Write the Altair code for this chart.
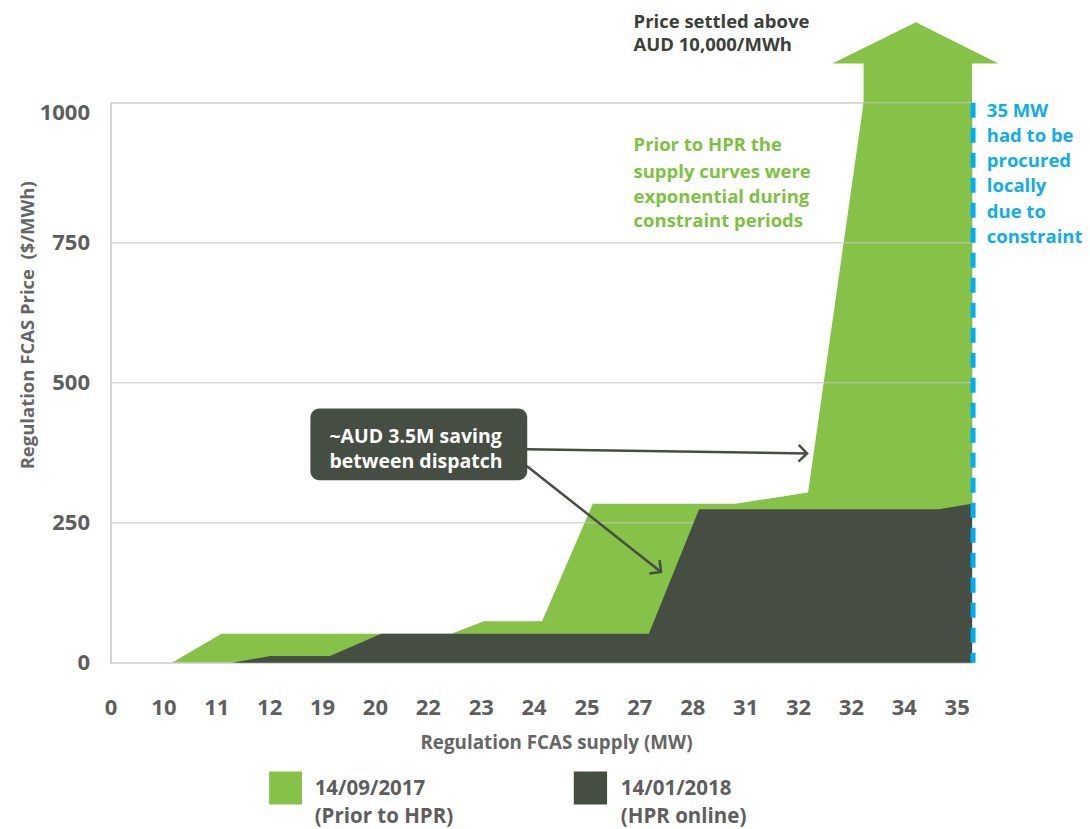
import json
import altair as alt
import pandas as pd

# ---------------- data ----------------
x_labels = ['0', '10', '11', '12', '19', '20', '22', '23', '24', '25',
            '27', '28', '31', '32', '32', '34', '35']
y_ticks = [0, 250, 500, 750, 1000]

series = ["14/09/2017 (Prior to HPR)", "14/01/2018 (HPR online)"]
colors = ["#85c247", "#464d42"]

# supply curve (x = position index on the category axis, y = $/MWh)
green_x = [0, 1.16, 2.10, 6.45, 7.06, 8.16, 9.12, 11.82, 13.19, 14.24, 16.29]
green_y = [0, 0, 52, 52, 74, 74, 284, 284, 304, 1000, 1000]
dark_x = [0, 2.30, 3.02, 4.15, 5.12, 10.18, 11.13, 15.66, 16.29]
dark_y = [0, 0, 12, 12, 52, 52, 274, 274, 284]

# big "price above 10,000" arrow (shaft + head)
shaft_x, shaft_x2, shaft_y, shaft_y2 = 14.24, 16.29, 995, 1072
head_x = [13.65, 15.23, 16.79]
head_y = [1070, 1144, 1070]

constraint_x = 16.31

# annotation box + arrows
box = dict(x=3.78, x2=7.88, y=454, y2=326)
box_lines = ["~AUD 3.5M saving", "between dispatch"]
box_line_y = [403, 358]
box_text_x = 4.14
arrows_x = [7.87, 7.87]
arrows_y = [381.5, 351.6]
arrows_x2 = [13.17, 10.41]
arrows_y2 = [373.8, 162.2]
arrows_angle = [1, 38]

top_lines = ["Price settled above", "AUD 10,000/MWh"]
top_y = [1145, 1103.5]
green_lines = ["Prior to HPR the", "supply curves were", "exponential during", "constraint periods"]
green_line_y = [925, 877, 832, 789]
note_x = 9.89
blue_lines = ["35 MW", "had to be", "procured", "locally", "due to", "constraint"]
blue_line_y = [985, 941, 896, 851, 805, 761]
blue_x = 16.57

legend_rect_x = [3.0, 8.76]
legend_rect_x2 = [3.62, 9.39]
legend_rect_y, legend_rect_y2 = -194, -253
legend_text_x = [3.86, 9.65]
legend_line1 = ["14/09/2017", "14/01/2018"]
legend_line2 = ["(Prior to HPR)", "(HPR online)"]
legend_y1, legend_y2 = -226, -275

# ---------------- tables ----------------
df_green = pd.DataFrame({"x": green_x, "y": green_y, "series": series[0]})
df_dark = pd.DataFrame({"x": dark_x, "y": dark_y, "series": series[1]})
df_shaft = pd.DataFrame({"x": [shaft_x], "x2": [shaft_x2], "y": [shaft_y], "y2": [shaft_y2], "series": [series[0]]})
df_head = pd.DataFrame({"x": head_x, "y": head_y, "y2": [head_y[0]] * 3, "series": series[0]})
df_grid = pd.DataFrame({"y": y_ticks, "x": 0, "x2": green_x[-1]})
df_const = pd.DataFrame({"x": [constraint_x], "y": [1000], "y2": [0]})
df_box = pd.DataFrame([box])
df_box_text = pd.DataFrame({"t": box_lines, "y": box_line_y, "x": box_text_x})
df_arrows = pd.DataFrame({"x": arrows_x, "y": arrows_y, "x2": arrows_x2, "y2": arrows_y2, "a": arrows_angle})
df_top = pd.DataFrame({"t": top_lines, "y": top_y, "x": note_x})
df_gtext = pd.DataFrame({"t": green_lines, "y": green_line_y, "x": note_x})
df_btext = pd.DataFrame({"t": blue_lines, "y": blue_line_y, "x": blue_x})
df_leg_rect = pd.DataFrame({"x": legend_rect_x, "x2": legend_rect_x2, "y": legend_rect_y,
                            "y2": legend_rect_y2, "series": series})
df_leg_text = pd.DataFrame({
    "t": legend_line1 + legend_line2,
    "x": legend_text_x + legend_text_x,
    "y": [legend_y1] * 2 + [legend_y2] * 2,
})

FONT = "Open Sans"
xs = alt.Scale(domain=[0, green_x[-1]], nice=False, zero=False)
ys = alt.Scale(domain=[0, 1000], nice=False)
cs = alt.Scale(domain=series, range=colors)

x_axis = alt.Axis(
    values=list(range(len(x_labels))),
    labelExpr=json.dumps(x_labels) + "[datum.value]",
    title="Regulation FCAS supply (MW)",
    titleFontSize=18.8, titleFontWeight="bold", titleColor="#666666",
    titleX=445.5, titleY=79.5, titleBaseline="middle", titleAlign="center",
    labelFontSize=22, labelFontWeight="bold", labelColor="#5e5e5e",
    labelPadding=45, labelBaseline="middle", labelFlush=False, labelOverlap=False,
    ticks=False, domain=False, grid=False,
)
y_axis = alt.Axis(
    values=y_ticks, format="d",
    title="Regulation FCAS Price\u00a0 ($/MWh)",
    titleFontSize=18.5, titleFontWeight="bold", titleColor="#666666",
    titleX=-83, titleY=222, titleAngle=270, titleBaseline="middle", titleAlign="center",
    labelFontSize=22, labelFontWeight="bold", labelColor="#5e5e5e", labelPadding=21,
    labelBaseline={"condition": {"test": "datum.value === 1000", "value": "top"}, "value": "middle"},
    labelFlush=False, labelOverlap=False,
    ticks=False, domain=True, domainColor="#bdbdbd", domainWidth=1, grid=False,
)


def X(f, **kw):
    return alt.X(f, scale=xs, axis=x_axis, **kw)


def Y(f, **kw):
    return alt.Y(f, scale=ys, axis=y_axis, **kw)


color = alt.Color("series:N", scale=cs, legend=None)

green_area = alt.Chart(df_green).mark_area(interpolate="linear").encode(
    x=X("x:Q"), y=Y("y:Q", stack=None), color=color)
shaft = alt.Chart(df_shaft).mark_rect().encode(x=X("x:Q"), x2="x2", y=Y("y:Q"), y2="y2", color=color)
head = alt.Chart(df_head).mark_area().encode(x=X("x:Q"), y=Y("y:Q", stack=None), y2="y2", color=color)
grid = alt.Chart(df_grid).mark_rule(color="#c4c4c4", strokeWidth=1).encode(
    x=X("x:Q"), x2="x2", y=Y("y:Q"))
dark_area = alt.Chart(df_dark).mark_area(interpolate="linear").encode(
    x=X("x:Q"), y=Y("y:Q", stack=None), color=color)
const_line = alt.Chart(df_const).mark_rule(
    color="#00aeef", strokeWidth=5, strokeDash=[15, 10]).encode(x=X("x:Q"), y=Y("y:Q"), y2="y2")

arrow_lines = alt.Chart(df_arrows).mark_rule(color="#464d42", strokeWidth=2.5).encode(
    x=X("x:Q"), y=Y("y:Q"), x2="x2", y2="y2")
arrow_heads = alt.Chart(df_arrows).mark_point(
    shape="M -1 -1 L 0 0 L -1 1", filled=False, stroke="#464d42", strokeWidth=2.5,
    size=280, opacity=1).encode(
    x=X("x2:Q"), y=Y("y2:Q"), angle=alt.Angle("a:Q", scale=None))
box_rect = alt.Chart(df_box).mark_rect(cornerRadius=9, color="#464d42").encode(
    x=X("x:Q"), x2="x2", y=Y("y:Q"), y2="y2")
box_text = alt.Chart(df_box_text).mark_text(
    align="left", baseline="middle", font=FONT, fontSize=19.5, fontWeight="bold", color="white"
).encode(x=X("x:Q"), y=Y("y:Q"), text="t:N")

top_text = alt.Chart(df_top).mark_text(
    align="left", baseline="middle", font=FONT, fontSize=18.5, fontWeight="bold", color="#3c4038"
).encode(x=X("x:Q"), y=Y("y:Q"), text="t:N")
green_text = alt.Chart(df_gtext).mark_text(
    align="left", baseline="middle", font=FONT, fontSize=18.5, fontWeight="bold", color="#7dc242"
).encode(x=X("x:Q"), y=Y("y:Q"), text="t:N")
blue_text = alt.Chart(df_btext).mark_text(
    align="left", baseline="middle", font=FONT, fontSize=18.5, fontWeight="bold", color="#0fade9"
).encode(x=X("x:Q"), y=Y("y:Q"), text="t:N")

leg_rect = alt.Chart(df_leg_rect).mark_rect().encode(
    x=X("x:Q"), x2="x2", y=Y("y:Q"), y2="y2", color=color)
leg_text = alt.Chart(df_leg_text).mark_text(
    align="left", baseline="middle", font=FONT, fontSize=20.5, fontWeight="bold", color="#5e5e5e"
).encode(x=X("x:Q"), y=Y("y:Q"), text="t:N")

chart = alt.layer(
    green_area, shaft, head, grid, dark_area, const_line,
    arrow_lines, arrow_heads, box_rect, box_text,
    top_text, green_text, blue_text, leg_rect, leg_text,
).properties(
    width=861.5, height=560,
    autosize=alt.AutoSizeParams(type="none"),
    padding={"left": 102.5, "top": 94.8, "right": 110, "bottom": 172},
).configure_view(stroke=None).configure(font=FONT)

chart.save("out.html", embed_options={"renderer": "svg", "actions": False})
